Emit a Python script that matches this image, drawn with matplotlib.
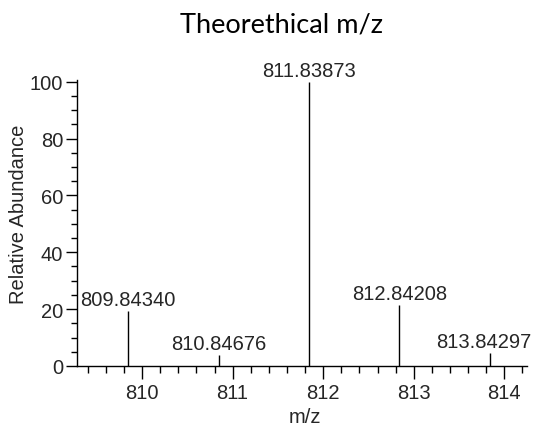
import matplotlib
matplotlib.use("Agg")
import matplotlib.pyplot as plt
from matplotlib.ticker import MultipleLocator

mz = [809.84340, 810.84676, 811.83873, 812.84208, 813.84297]
abundance = [19.5, 4.0, 100.0, 21.5, 4.7]
labels = ["809.84340", "810.84676", "811.83873", "812.84208", "813.84297"]
x_ticks = [810, 811, 812, 813, 814]
y_ticks = [0, 20, 40, 60, 80, 100]

plt.rcParams['font.family'] = ['Liberation Sans', 'DejaVu Sans']
txt = '#262626'
fs = 14.5

fig = plt.figure(figsize=(5.36, 4.35), dpi=100)
ax = fig.add_axes([77/536, 68/435, (527-77)/536, (354.3-68)/435])

ax.vlines(mz, 0, abundance, color='black', lw=1.0)
for i, (x, y, lab) in enumerate(zip(mz, abundance, labels)):
    dx = -4.5 if i == len(mz) - 1 else 0
    ax.annotate(lab, (x, y), xytext=(dx, 4.3), textcoords='offset points',
                ha='center', va='baseline', fontsize=fs, color=txt)

ax.set_xlim(809.282, 814.25)
ax.set_ylim(0, 100.7)
ax.set_xticks(x_ticks)
ax.set_yticks(y_ticks)
ax.xaxis.set_minor_locator(MultipleLocator(0.2))
ax.yaxis.set_minor_locator(MultipleLocator(5))
for s in ['top', 'right']:
    ax.spines[s].set_visible(False)
for s in ['left', 'bottom']:
    ax.spines[s].set_linewidth(1.0)
ax.tick_params(axis='x', which='major', direction='out', length=9, width=1.0,
               pad=3, labelsize=fs, labelcolor=txt)
ax.tick_params(axis='x', which='minor', direction='out', length=5, width=1.0)
ax.tick_params(axis='y', which='major', direction='out', length=8, width=1.0,
               pad=2, labelsize=fs, labelcolor=txt)
ax.tick_params(axis='y', which='minor', direction='out', length=4.3, width=1.0)

fig.text(19/536, 1 - 214/435, 'Relative Abundance', rotation=90,
         ha='center', va='center', fontsize=fs, color=txt)
fig.text(305/536, 1 - 418/435, 'm/z', ha='center', va='center',
         fontsize=fs, color=txt)
fig.text(281/536, 1 - 33/435, 'Theorethical m/z', ha='center', va='baseline',
         fontsize=19.5, color='black', family=['Lato', 'DejaVu Sans'])

fig.savefig('out.png', dpi=100, facecolor='white')
